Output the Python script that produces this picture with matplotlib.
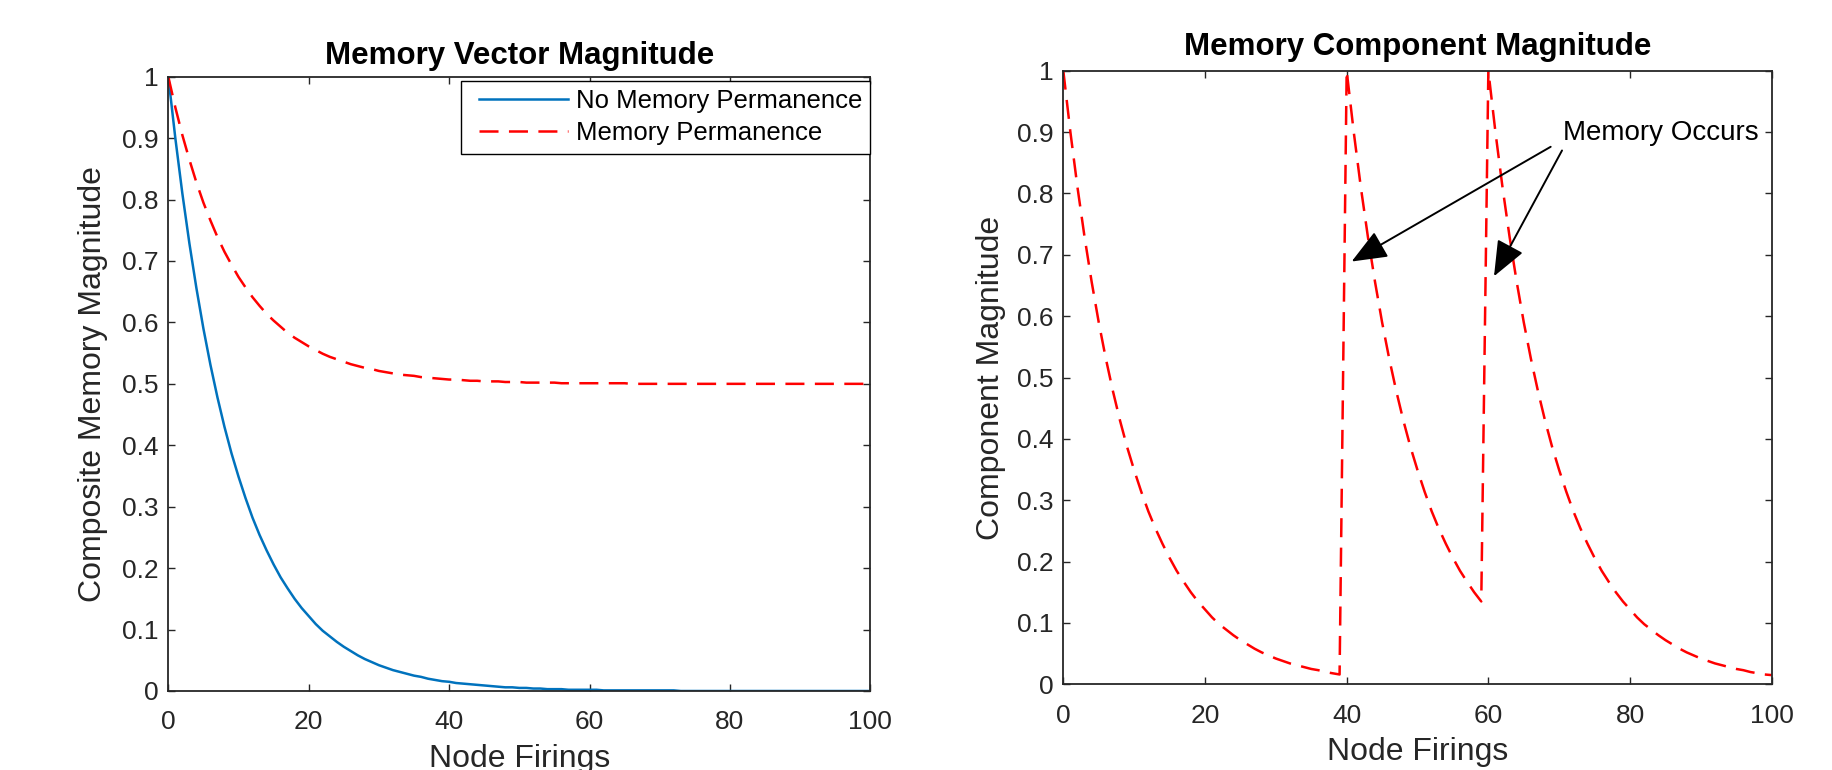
import matplotlib
matplotlib.use("Agg")
import matplotlib.pyplot as plt
from matplotlib.legend_handler import HandlerLine2D
from matplotlib.lines import Line2D

plt.rcParams['font.family'] = ['Liberation Sans', 'DejaVu Sans']

# ---------------- data ----------------
x_left = list(range(0, 101))
no_perm = [
    1.000, 0.900, 0.810, 0.729, 0.656, 0.590, 0.531, 0.478, 0.430, 0.387,
    0.349, 0.314, 0.282, 0.254, 0.229, 0.206, 0.185, 0.167, 0.150, 0.135,
    0.122, 0.109, 0.098, 0.089, 0.080, 0.072, 0.065, 0.058, 0.052, 0.047,
    0.042, 0.038, 0.034, 0.031, 0.028, 0.025, 0.023, 0.020, 0.018, 0.016,
    0.015, 0.013, 0.012, 0.011, 0.010, 0.009, 0.008, 0.007, 0.006, 0.006,
    0.005, 0.005, 0.004, 0.004, 0.003, 0.003, 0.003, 0.002, 0.002, 0.002,
    0.002, 0.002, 0.001, 0.001, 0.001, 0.001, 0.001, 0.001, 0.001, 0.001,
    0.001, 0.001, 0.001, 0.000, 0.000, 0.000, 0.000, 0.000, 0.000, 0.000,
    0.000, 0.000, 0.000, 0.000, 0.000, 0.000, 0.000, 0.000, 0.000, 0.000,
    0.000, 0.000, 0.000, 0.000, 0.000, 0.000, 0.000, 0.000, 0.000, 0.000,
    0.000,
]
perm = [
    1.000, 0.950, 0.905, 0.865, 0.828, 0.795, 0.766, 0.739, 0.715, 0.694,
    0.674, 0.657, 0.641, 0.627, 0.614, 0.603, 0.593, 0.583, 0.575, 0.568,
    0.561, 0.555, 0.549, 0.544, 0.540, 0.536, 0.532, 0.529, 0.526, 0.524,
    0.521, 0.519, 0.517, 0.515, 0.514, 0.513, 0.511, 0.510, 0.509, 0.508,
    0.507, 0.507, 0.506, 0.505, 0.505, 0.504, 0.504, 0.504, 0.503, 0.503,
    0.503, 0.502, 0.502, 0.502, 0.502, 0.502, 0.501, 0.501, 0.501, 0.501,
    0.501, 0.501, 0.501, 0.501, 0.501, 0.501, 0.500, 0.500, 0.500, 0.500,
    0.500, 0.500, 0.500, 0.500, 0.500, 0.500, 0.500, 0.500, 0.500, 0.500,
    0.500, 0.500, 0.500, 0.500, 0.500, 0.500, 0.500, 0.500, 0.500, 0.500,
    0.500, 0.500, 0.500, 0.500, 0.500, 0.500, 0.500, 0.500, 0.500, 0.500,
    0.500,
]

x_right = list(range(0, 101))
component = [
    # x = 0..39
    1.000, 0.900, 0.810, 0.729, 0.656, 0.590, 0.531, 0.478, 0.430, 0.387,
    0.349, 0.314, 0.282, 0.254, 0.229, 0.206, 0.185, 0.167, 0.150, 0.135,
    0.122, 0.109, 0.098, 0.089, 0.080, 0.072, 0.065, 0.058, 0.052, 0.047,
    0.042, 0.038, 0.034, 0.031, 0.028, 0.025, 0.023, 0.020, 0.018, 0.016,
    # x = 40..59
    1.000, 0.900, 0.810, 0.729, 0.656, 0.590, 0.531, 0.478, 0.430, 0.387,
    0.349, 0.314, 0.282, 0.254, 0.229, 0.206, 0.185, 0.167, 0.150, 0.135,
    # x = 60..100
    1.000, 0.900, 0.810, 0.729, 0.656, 0.590, 0.531, 0.478, 0.430, 0.387,
    0.349, 0.314, 0.282, 0.254, 0.229, 0.206, 0.185, 0.167, 0.150, 0.135,
    0.122, 0.109, 0.098, 0.089, 0.080, 0.072, 0.065, 0.058, 0.052, 0.047,
    0.042, 0.038, 0.034, 0.031, 0.028, 0.025, 0.023, 0.020, 0.018, 0.016,
    0.015,
]

x_ticks = [0, 20, 40, 60, 80, 100]
y_ticks = [0, 0.1, 0.2, 0.3, 0.4, 0.5, 0.6, 0.7, 0.8, 0.9, 1]
y_tick_labels = ['0', '0.1', '0.2', '0.3', '0.4', '0.5', '0.6', '0.7', '0.8', '0.9', '1']

legend_labels = ['No Memory Permanence', 'Memory Permanence']
annot_text = 'Memory Occurs'
annot_tips = [(40.7, 0.689), (60.8, 0.665)]
annot_tails = [(68.8, 0.876), (70.4, 0.870)]
annot_text_pos = (70.5, 0.898)

# ---------------- styling ----------------
BLUE = '#0072BD'
RED = '#FF0000'
AX = '#262626'
TICK_FS = 19
LABEL_FS = 23
TITLE_FS = 22.5

fig = plt.figure(figsize=(18.33, 7.70), dpi=100)
ax1 = fig.add_axes([0.09182, 0.10260, 0.38298, 0.79779])
ax2 = fig.add_axes([0.58009, 0.11130, 0.38647, 0.79688])

LW = 1.8
dash = (13.7 / LW, 7.5 / LW)


def style(ax):
    ax.set_xlim(0, 100)
    ax.set_ylim(0, 1)
    ax.set_xticks(x_ticks)
    ax.set_yticks(y_ticks)
    ax.set_yticklabels(y_tick_labels)
    ax.tick_params(direction='in', length=5, width=1.0, colors=AX,
                   labelsize=TICK_FS, top=True, right=True)
    ax.tick_params(axis='x', pad=14)
    ax.tick_params(axis='y', pad=7)
    for s in ax.spines.values():
        s.set_color(AX)
        s.set_linewidth(1.3)


ax1.plot(x_left, no_perm, color=BLUE, lw=LW, label=legend_labels[0])
ax1.plot(x_left, perm, color=RED, lw=LW, dashes=dash, label=legend_labels[1])
style(ax1)
ax1.set_title('Memory Vector Magnitude', fontsize=TITLE_FS, fontweight='bold', pad=9)
ax1.set_xlabel('Node Firings', fontsize=LABEL_FS, color=AX, labelpad=7)
ax1.set_ylabel('Composite Memory Magnitude', fontsize=LABEL_FS, color=AX, labelpad=10)
leg = ax1.legend(loc='upper right', bbox_to_anchor=(1.0, 1 - 4 / 614.3),
                 borderaxespad=0, fontsize=18.5, frameon=True, fancybox=False,
                 edgecolor='#000000', framealpha=1, handlelength=3.85,
                 handletextpad=0.3, labelspacing=0.33, borderpad=0.32,
                 handler_map={Line2D: HandlerLine2D(xpad=0.4)})
leg.get_frame().set_linewidth(1.0)

ax2.plot(x_right, component, color=RED, lw=LW, dashes=dash)
style(ax2)
ax2.set_title('Memory Component Magnitude', fontsize=TITLE_FS, fontweight='bold', pad=11)
ax2.set_xlabel('Node Firings', fontsize=LABEL_FS, color=AX, labelpad=7)
ax2.set_ylabel('Component Magnitude', fontsize=LABEL_FS, color=AX, labelpad=8)

for tip, tail in zip(annot_tips, annot_tails):
    ax2.annotate('', xy=tip, xytext=tail,
                 arrowprops=dict(arrowstyle='-|>,head_length=1.1,head_width=0.45',
                                 mutation_scale=20, lw=1.4, color='k',
                                 shrinkA=0, shrinkB=0))
ax2.text(annot_text_pos[0], annot_text_pos[1], annot_text, fontsize=20,
         ha='left', va='center', color='k')

fig.savefig('out.png', dpi=100)
